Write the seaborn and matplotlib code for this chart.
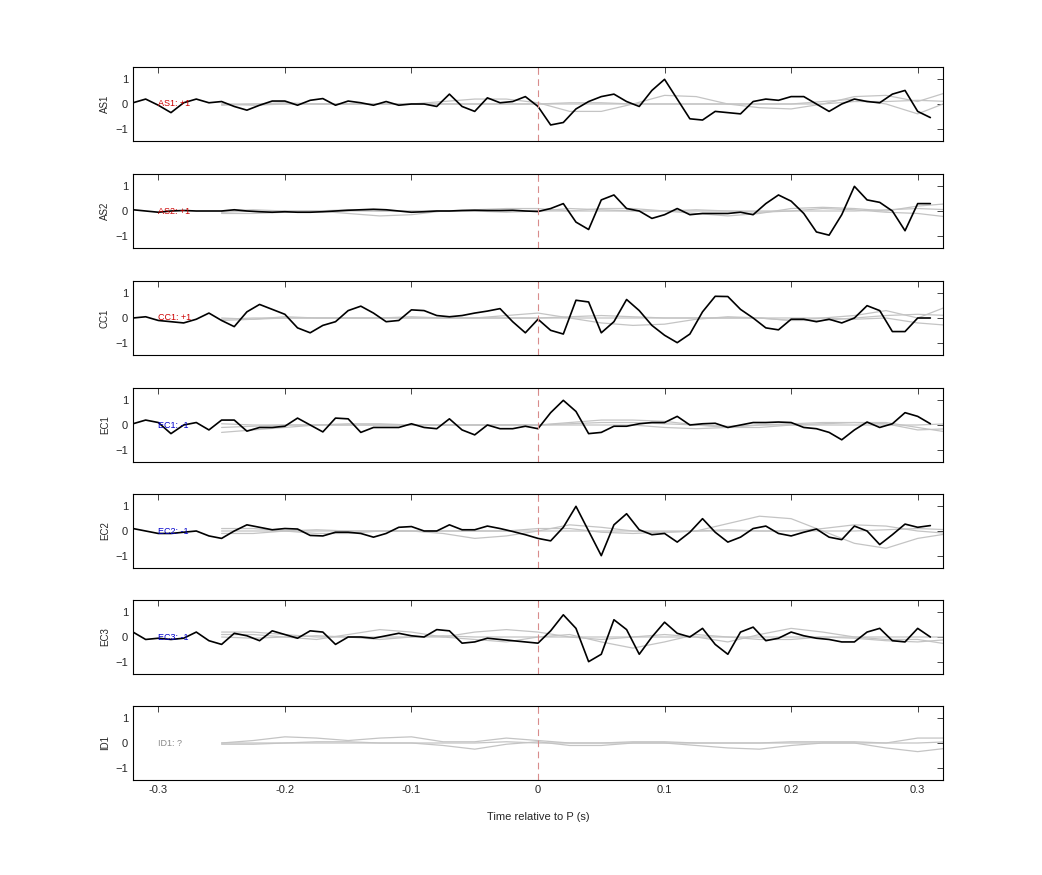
import numpy as np
import pandas as pd
import matplotlib
matplotlib.use("Agg")
import matplotlib.pyplot as plt
import seaborn as sns

sns.set_style("white")
plt.rcParams['font.family'] = ['Liberation Sans', 'DejaVu Sans']

stations = ["AS1", "AS2", "CC1", "EC1", "EC2", "EC3", "ID1"]
labels = ["AS1: +1", "AS2: +1", "CC1: +1", "EC1: -1", "EC2: -1", "EC3: -1", "ID1: ?"]
label_colors = ["#cc0000", "#cc0000", "#cc0000", "#0000cc", "#0000cc", "#0000cc", "#888888"]

t_black = np.round(np.arange(-0.32, 0.315, 0.01), 3)
t_gray = np.round(np.arange(-0.25, 0.33, 0.025), 3)

black = {
 "AS1": [0.05,0.2,-0.05,-0.35,0.05,0.2,0.05,0.1,-0.1,-0.25,-0.05,0.12,0.12,-0.05,0.15,0.22,-0.05,0.12,0.05,-0.05,0.1,-0.05,0.0,0.0,-0.1,0.4,-0.1,-0.3,0.25,0.05,0.1,0.3,
         -0.1,-0.85,-0.75,-0.2,0.1,0.3,0.4,0.1,-0.1,0.55,1.0,0.2,-0.6,-0.65,-0.3,-0.35,-0.4,0.1,0.2,0.15,0.3,0.3,0.0,-0.3,0.0,0.2,0.1,0.05,0.4,0.55,-0.3,-0.55],
 "AS2": [0.05,0,-0.05,0,0.02,0,0,0,0.05,0,-0.03,-0.05,-0.03,-0.05,-0.05,-0.03,0,0.03,0.05,0.07,0.05,0,-0.05,-0.03,0,0,0.02,0.03,0.02,0.02,0.03,0,
         -0.02,0.1,0.3,-0.45,-0.75,0.45,0.65,0.1,0.0,-0.3,-0.15,0.1,-0.15,-0.1,-0.1,-0.1,-0.05,-0.15,0.3,0.65,0.4,-0.1,-0.85,-0.98,-0.15,1.0,0.45,0.35,0.0,-0.8,0.3,0.3],
 "CC1": [0.0,0.05,-0.1,-0.15,-0.2,-0.05,0.2,-0.1,-0.35,0.25,0.55,0.35,0.15,-0.4,-0.6,-0.3,-0.15,0.3,0.48,0.2,-0.15,-0.1,0.33,0.3,0.1,0.05,0.1,0.2,0.28,0.38,-0.15,-0.6,
         -0.05,-0.5,-0.65,0.72,0.65,-0.6,-0.15,0.75,0.3,-0.3,-0.7,-1.0,-0.65,0.25,0.88,0.87,0.35,0.0,-0.4,-0.48,-0.05,-0.05,-0.15,-0.05,-0.2,0.0,0.5,0.3,-0.55,-0.55,0.0,0.0],
 "EC1": [0.05,0.2,0.1,-0.35,0.0,0.1,-0.2,0.2,0.2,-0.25,-0.1,-0.1,-0.05,0.28,0.0,-0.28,0.28,0.25,-0.3,-0.1,-0.1,-0.1,0.05,-0.1,-0.15,0.25,-0.2,-0.4,0.0,-0.15,-0.15,-0.05,
         -0.15,0.5,1.0,0.55,-0.35,-0.3,-0.05,-0.05,0.05,0.1,0.1,0.35,0.0,0.05,0.07,-0.1,0.0,0.1,0.1,0.12,0.1,-0.1,-0.15,-0.3,-0.6,-0.2,0.12,-0.1,0.05,0.5,0.35,0.05],
 "EC2": [0.1,0.0,-0.1,-0.1,-0.05,0.0,-0.2,-0.3,0.0,0.25,0.15,0.05,0.1,0.08,-0.18,-0.2,-0.05,-0.05,-0.1,-0.25,-0.1,0.15,0.18,0.0,0.0,0.25,0.05,0.05,0.2,0.1,-0.02,-0.15,
         -0.3,-0.4,0.15,1.0,0.0,-1.0,0.25,0.7,0.05,-0.15,-0.1,-0.45,-0.05,0.5,-0.05,-0.45,-0.25,0.1,0.2,-0.1,-0.2,-0.05,0.08,-0.25,-0.35,0.2,0.0,-0.55,-0.15,0.28,0.15,0.22],
 "EC3": [0.2,-0.1,-0.05,-0.1,-0.05,0.2,-0.15,-0.3,0.15,0.05,-0.15,0.25,0.1,-0.05,0.25,0.2,-0.3,0.0,0.0,-0.05,0.05,0.15,0.05,0.0,0.3,0.25,-0.25,-0.2,-0.05,-0.1,-0.15,-0.2,
         -0.25,0.25,0.9,0.35,-1.0,-0.7,0.7,0.3,-0.7,0.0,0.6,0.15,0.0,0.35,-0.3,-0.7,0.2,0.4,-0.15,-0.05,0.2,0.05,-0.05,-0.1,-0.2,-0.2,0.2,0.35,-0.15,-0.2,0.35,0.0],
}

gray = {
 "AS1": [[0,0,0,0,0,0,0,0.1,0.2,0.2,0.05,-0.3,-0.3,0,0.35,0.3,0,-0.15,-0.2,0,0.3,0.35,0.1,0.5],
         [0,-0.05,0,0,0,0,0,0,0,0,0,0,0,0,0,0,0,0,0,0.1,0.2,0,-0.4,0.1],
         [-0.05,0,0.05,0,0,0,0,0,0,0,0,0.05,0.05,0,0,0,0,0,0,0,0.1,0.1,0.15,0.1]],
 "AS2": [[-0.1,-0.1,-0.05,0,-0.1,-0.2,-0.15,0,0.05,0.1,0.1,0,0.1,0.1,0,-0.1,-0.2,-0.1,0.1,0.15,0.1,0,0.2,0.3],
         [0,0.05,0,0,0.05,0,0,0,0,-0.05,0,0.1,0.05,0,0,0.05,0,-0.05,0,0.1,0.05,-0.05,-0.1,-0.25],
         [-0.05,0,0,0,0,0,0,0,0,0,0,0,0,0,0,0,0,0,0,0,0,0.05,0.1,0.05]],
 "CC1": [[-0.05,0,0,0,0,0,0,0,0,0.1,0.2,0,-0.2,-0.3,-0.25,-0.05,0.05,0,-0.1,0,0.1,0.3,0,0.5],
         [0,-0.05,0.05,0,0,0,0.05,0,0,0,0,0.05,0.1,0.05,0,0,0,0,0,0,-0.05,0,-0.2,-0.3],
         [-0.1,-0.05,0,0,0,0,0,0,0,0,0,0,0,0,0,0,0,0,-0.1,-0.1,0,0.1,0.15,0.1]],
 "EC1": [[-0.1,-0.05,0,0,0.05,0.05,0,0,0,0,0,0.1,0.2,0.2,0.15,0,-0.1,-0.1,0,0.05,0.1,0.1,-0.1,-0.3],
         [-0.3,-0.2,-0.1,0,0,0,0,0,0,0,0,0.05,0.1,0.1,0.05,0,-0.05,0,0.05,0.1,0.1,0.05,-0.2,-0.15],
         [0.05,0,0,0,0,0,0,0,0,0,0,0,0,0,-0.1,-0.15,-0.1,0,0,0,0,0,0,0.05]],
 "EC2": [[0.1,0.1,0,-0.1,-0.1,0,0,-0.1,-0.3,-0.2,0,0.25,0.15,0,-0.05,0,0.3,0.6,0.5,0,-0.5,-0.7,-0.3,-0.1],
         [-0.1,-0.1,0,0.05,0,0,0,0,0,0,0.1,0.1,-0.05,-0.1,-0.05,0,0.05,0,0,0.1,0.25,0.2,0,-0.1],
         [0,0,0,0,0,0,0,0,0,0,0,0,0,0,0,0,0,0,0,0,0,0.05,0.1,0.05]],
 "EC3": [[0.1,0.1,0,-0.1,0.1,0.3,0.2,0,-0.1,-0.2,0,0.1,-0.2,-0.45,-0.2,0.1,0,-0.1,-0.1,0,0,-0.1,-0.1,-0.3],
         [0.2,0.2,0.1,0,0,0,0,0,0.2,0.3,0.2,0,-0.1,0,0.1,0,-0.2,0.1,0.35,0.2,0,0,0,0],
         [0,-0.05,0,0.05,0,-0.1,0,0.05,0,0,0,0,0,0,0,0,0,0,0,0,-0.05,-0.15,-0.2,-0.1]],
 "ID1": [[0,0.1,0.25,0.2,0.1,0.2,0.25,0.05,0.05,0.2,0.1,0,0,0,0,0,0,0,0,0,0,0,0.2,0.2],
         [0,0,0,0,0,0,0,-0.1,-0.25,-0.05,0.05,-0.1,-0.1,0,0,-0.1,-0.2,-0.25,-0.1,0,0,-0.2,-0.35,-0.2],
         [-0.05,-0.05,0,0.05,0.05,0,0,0,0,0.05,0,0,0,0.05,0.05,0,0,0,0.05,0.05,0.05,0,0,0.05]],
}

fig = plt.figure(figsize=(10.42, 8.75), dpi=100)
W, H = 1042, 875
left, right = 133, 943
tops = [67, 174, 281, 388, 494, 600, 706]
ph = 74
for i, st in enumerate(stations):
    ax = fig.add_axes([left / W, 1 - (tops[i] + ph) / H, (right - left) / W, ph / H])
    for g in gray[st]:
        sns.lineplot(x=t_gray, y=g, ax=ax, color="#c4c4c4", lw=0.9)
    if st in black:
        sns.lineplot(x=t_black, y=black[st], ax=ax, color="black", lw=1.2)
    ax.axvline(0, color="#d98c8c", lw=0.8, ls=(0, (6, 4)))
    ax.text(-0.30, 0, labels[i], color=label_colors[i], fontsize=6.5, va="center")
    ax.set_xlim(-0.32, 0.32)
    ax.set_ylim(-1.5, 1.5)
    ax.set_yticks([-1, 0, 1])
    ax.set_xticks([-0.3, -0.2, -0.1, 0, 0.1, 0.2, 0.3])
    ax.tick_params(direction="in", top=True, right=True, labelsize=8, length=4, width=0.6)
    ax.set_ylabel(st, fontsize=7)
    for s in ax.spines.values():
        s.set_linewidth(0.8)
        s.set_color("black")
    if i < len(stations) - 1:
        ax.set_xticklabels([])
    else:
        ax.set_xticklabels(["-0.3", "-0.2", "-0.1", "0", "0.1", "0.2", "0.3"])
        ax.set_xlabel("Time relative to P (s)", fontsize=8, labelpad=12)

fig.savefig("out.png", dpi=100)
